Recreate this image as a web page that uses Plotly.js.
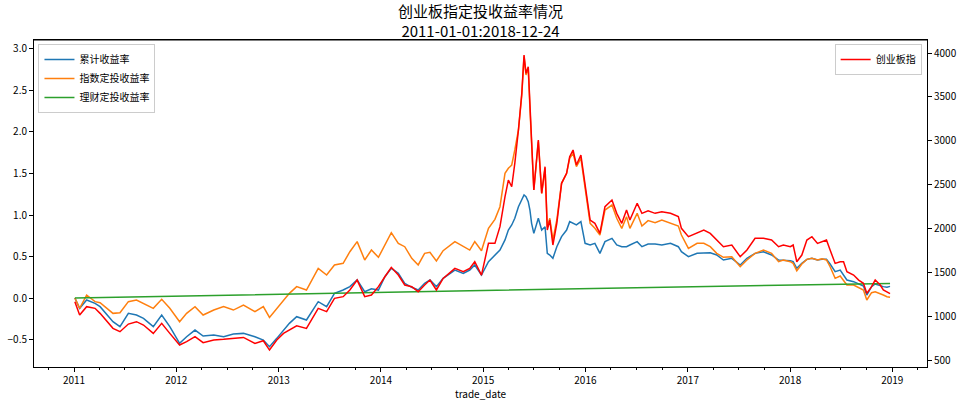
<!DOCTYPE html>
<html>
<head>
<meta charset="utf-8">
<script src="https://cdn.plot.ly/plotly-3.0.1.min.js"></script>
<style>html,body{margin:0;padding:0;background:#fff;}#chart{width:961px;height:401px;}</style>
</head>
<body>
<div id="chart"></div>
<script>
const dates = [
"2011-01-04","2011-01-21","2011-02-15","2011-03-17","2011-04-04","2011-04-28","2011-05-20","2011-06-14","2011-07-14","2011-08-12",
"2011-09-06","2011-10-11","2011-11-10","2011-12-09","2012-01-13","2012-02-07","2012-03-08","2012-04-06","2012-05-14","2012-06-18",
"2012-07-23","2012-08-28","2012-10-08","2012-11-07","2012-11-29","2012-12-25","2013-01-18","2013-02-08",
"2013-03-06","2013-04-10","2013-05-22","2013-06-21","2013-07-19","2013-08-19","2013-09-12","2013-10-08","2013-11-04","2013-11-28",
"2013-12-23","2014-01-15","2014-02-07","2014-03-04","2014-03-27","2014-04-21","2014-05-14","2014-06-06","2014-06-25","2014-07-18",
"2014-08-11","2014-09-22","2014-10-22","2014-11-14","2014-12-02","2014-12-26","2015-01-20","2015-02-12","2015-03-02",
"2015-03-20","2015-04-01","2015-04-13","2015-04-24","2015-05-07","2015-05-19","2015-05-27","2015-06-03","2015-06-11","2015-06-17",
"2015-06-23","2015-07-01","2015-07-17","2015-07-29","2015-08-10","2015-08-18","2015-08-27","2015-09-07","2015-09-21","2015-10-08",
"2015-10-26","2015-11-06","2015-11-18","2015-11-30","2015-12-16","2015-12-31","2016-01-18","2016-02-04","2016-02-22","2016-03-11",
"2016-04-05","2016-04-22","2016-05-10","2016-05-27","2016-06-08",
"2016-07-04","2016-07-21","2016-08-12","2016-09-06","2016-09-30","2016-10-31","2016-11-28","2016-12-09","2017-01-03","2017-02-03",
"2017-02-27","2017-03-22","2017-04-14","2017-05-08","2017-06-07","2017-07-07","2017-07-31","2017-08-29","2017-09-28","2017-10-27","2017-11-21",
"2017-12-08","2018-01-02","2018-01-12","2018-01-25","2018-02-12","2018-03-02","2018-03-20","2018-04-09","2018-04-25","2018-05-11",
"2018-05-24","2018-06-11","2018-06-29","2018-07-11","2018-07-23","2018-08-16","2018-09-03","2018-09-20","2018-10-02","2018-10-19",
"2018-11-01","2018-11-19","2018-11-30","2018-12-13","2018-12-24"
];

// 累计收益率
const cumRet = [
0.0,-0.124,-0.024,-0.064,-0.104,-0.205,-0.285,-0.345,-0.185,-0.205,-0.245,-0.345,-0.205,-0.345,-0.546,-0.466,-0.386,-0.458,-0.446,-0.466,-0.434,-0.426,-0.466,-0.506,-0.586,-0.486,-0.386,-0.305,
-0.225,-0.265,-0.044,-0.104,0.056,0.096,0.137,0.217,0.076,0.112,0.096,0.257,0.357,0.297,0.177,0.129,0.096,0.177,0.217,0.137,0.237,0.337,0.297,0.337,0.398,0.277,0.438,0.518,0.578,
0.700,0.819,0.880,0.960,1.100,1.181,1.241,1.221,1.161,1.060,0.900,0.779,0.960,0.819,0.859,0.538,0.518,0.478,0.618,0.739,0.819,0.920,0.900,0.880,0.920,0.659,0.639,0.659,0.538,0.679,0.719,0.639,0.618,0.618,0.639,
0.679,0.618,0.651,0.651,0.639,0.659,0.618,0.558,0.498,0.538,0.546,0.546,0.518,0.458,0.478,0.398,0.478,0.538,0.558,0.518,0.458,
0.458,0.450,0.438,0.357,0.418,0.466,0.478,0.458,0.466,0.466,0.410,0.317,0.337,0.277,0.217,0.197,0.169,0.145,0.036,0.137,0.169,0.145,0.137,0.129,0.14
];

// 指数定投收益率
const idxRet = [
0.0,-0.124,0.036,-0.044,-0.056,-0.124,-0.185,-0.177,-0.044,-0.024,-0.064,-0.124,-0.016,-0.124,-0.285,-0.185,-0.104,-0.205,-0.145,-0.104,-0.145,-0.084,-0.165,-0.104,-0.233,-0.124,-0.024,0.056,
0.137,0.096,0.357,0.277,0.398,0.418,0.558,0.679,0.458,0.578,0.490,0.639,0.787,0.659,0.618,0.478,0.398,0.538,0.550,0.446,0.570,0.679,0.627,0.578,0.679,0.570,0.839,0.948,1.100,
1.502,1.562,1.602,1.783,2.024,2.446,2.908,2.687,2.767,2.285,1.803,1.301,1.884,1.261,1.562,0.859,0.960,0.699,0.940,1.382,1.502,1.683,1.743,1.582,1.683,1.341,0.900,0.839,0.759,1.060,1.120,0.960,0.839,0.980,0.839,
1.020,0.867,0.932,0.908,0.940,0.900,0.867,0.759,0.598,0.659,0.659,0.618,0.538,0.490,0.498,0.377,0.458,0.538,0.578,0.538,0.438,
0.458,0.438,0.418,0.329,0.410,0.466,0.478,0.458,0.474,0.458,0.377,0.237,0.265,0.217,0.157,0.157,0.129,0.096,-0.024,0.064,0.076,0.056,0.036,0.016,0.01
];

// 创业板指
const cybIndex = [
1168,1016,1111,1092,1035,940,864,826,913,940,902,807,921,807,674,712,769,701,731,739,750,761,693,723,617,731,807,845,
894,864,1092,1054,1206,1225,1301,1414,1225,1244,1339,1452,1559,1471,1358,1339,1282,1358,1414,1301,1433,1547,1509,1547,1623,1471,1832,1832,2022,
2364,2553,2477,2743,3123,3541,3977,3768,3844,3389,2933,2440,3009,2402,2705,1984,2098,1813,2060,2516,2629,2819,2895,2724,2838,2516,2098,2060,1946,2250,2326,2174,2060,2212,2098,
2288,2174,2204,2174,2193,2174,2136,2003,1908,1954,1984,1946,1870,1794,1813,1680,1756,1889,1889,1870,1794,
1813,1794,1813,1623,1699,1870,1908,1832,1851,1870,1756,1604,1623,1623,1509,1471,1414,1377,1263,1339,1414,1358,1301,1282,1260
];

// 理财定投收益率
const wmDates = ["2011-01-04","2012-12-01","2014-11-10","2015-03-02","2016-02-22","2016-06-09","2017-11-21","2018-12-24"];
const wmRet = [0.0,0.045,0.085,0.095,0.115,0.125,0.155,0.175];

const leftTicks = [-0.5,0.0,0.5,1.0,1.5,2.0,2.5,3.0];
const rightTicks = [500,1000,1500,2000,2500,3000,3500,4000];
const yearTicks = ["2011-01-01","2012-01-01","2013-01-01","2014-01-01","2015-01-01","2016-01-01","2017-01-01","2018-01-01","2019-01-01"];
const yearLabels = ["2011","2012","2013","2014","2015","2016","2017","2018","2019"];

const FONT = '"Noto Sans CJK SC", "DejaVu Sans", sans-serif';

const traces = [
  {x: dates, y: cumRet, name: '累计收益率', type: 'scatter', mode: 'lines', line: {color: '#1f77b4', width: 1.5}, yaxis: 'y', legend: 'legend'},
  {x: dates, y: idxRet, name: '指数定投收益率', type: 'scatter', mode: 'lines', line: {color: '#ff7f0e', width: 1.5}, yaxis: 'y', legend: 'legend'},
  {x: wmDates, y: wmRet, name: '理财定投收益率', type: 'scatter', mode: 'lines', line: {color: '#2ca02c', width: 1.5}, yaxis: 'y', legend: 'legend'},
  {x: dates, y: cybIndex, name: '创业板指', type: 'scatter', mode: 'lines', line: {color: '#ff0000', width: 1.5}, yaxis: 'y2', legend: 'legend2'}
];

const layout = {
  width: 961, height: 401,
  margin: {l: 34, r: 34, t: 40, b: 34},
  paper_bgcolor: '#fff', plot_bgcolor: '#fff',
  font: {family: FONT, size: 10, color: '#000'},
  title: {text: '创业板指定投收益率情况<br>2011-01-01:2018-12-24', font: {family: FONT, size: 15, color: '#000'},
          x: 0.5, xanchor: 'center', xref: 'paper', yref: 'container', y: 0.957, yanchor: 'middle'},
  showlegend: true,
  xaxis: {
    type: 'date', range: ['2010-08-11', '2019-05-05'],
    tickvals: yearTicks, ticktext: yearLabels,
    ticks: 'outside', ticklen: 4, tickcolor: '#000', showgrid: false, zeroline: false,
    showline: true, linecolor: '#000', linewidth: 1, mirror: true,
    minor: {dtick: 'M3', ticks: 'outside', ticklen: 2, tickcolor: '#000', showgrid: false},
    title: {text: 'trade_date', font: {family: FONT, size: 10, color: '#000'}, standoff: 6},
    tickfont: {family: FONT, size: 10, color: '#000'}
  },
  yaxis: {
    range: [-0.831, 3.108], tickvals: leftTicks, tickformat: '.1f',
    ticks: 'outside', ticklen: 4, tickcolor: '#000', showgrid: false, zeroline: false,
    showline: true, linecolor: '#000', linewidth: 1,
    tickfont: {family: FONT, size: 10, color: '#000'}
  },
  yaxis2: {
    overlaying: 'y', side: 'right', range: [424, 4148], tickvals: rightTicks,
    ticks: 'outside', ticklen: 4, tickcolor: '#000', showgrid: false, zeroline: false,
    showline: true, linecolor: '#000', linewidth: 1,
    tickfont: {family: FONT, size: 10, color: '#000'}
  },
  legend: {
    x: 0.005, y: 0.988, xanchor: 'left', yanchor: 'top',
    bgcolor: 'rgba(255,255,255,0.8)', bordercolor: '#cccccc', borderwidth: 1,
    font: {family: FONT, size: 10, color: '#000'}, itemwidth: 30, tracegroupgap: 0
  },
  legend2: {
    x: 0.994, y: 0.988, xanchor: 'right', yanchor: 'top',
    bgcolor: 'rgba(255,255,255,0.8)', bordercolor: '#cccccc', borderwidth: 1,
    font: {family: FONT, size: 10, color: '#000'}, itemwidth: 30
  },
  shapes: [
    {type: 'line', xref: 'paper', yref: 'paper', x0: 0, x1: 1, y0: 1, y1: 1, line: {color: '#000', width: 1}}
  ]
};

Plotly.newPlot('chart', traces, layout, {displayModeBar: false, staticPlot: true});
</script>
</body>
</html>
